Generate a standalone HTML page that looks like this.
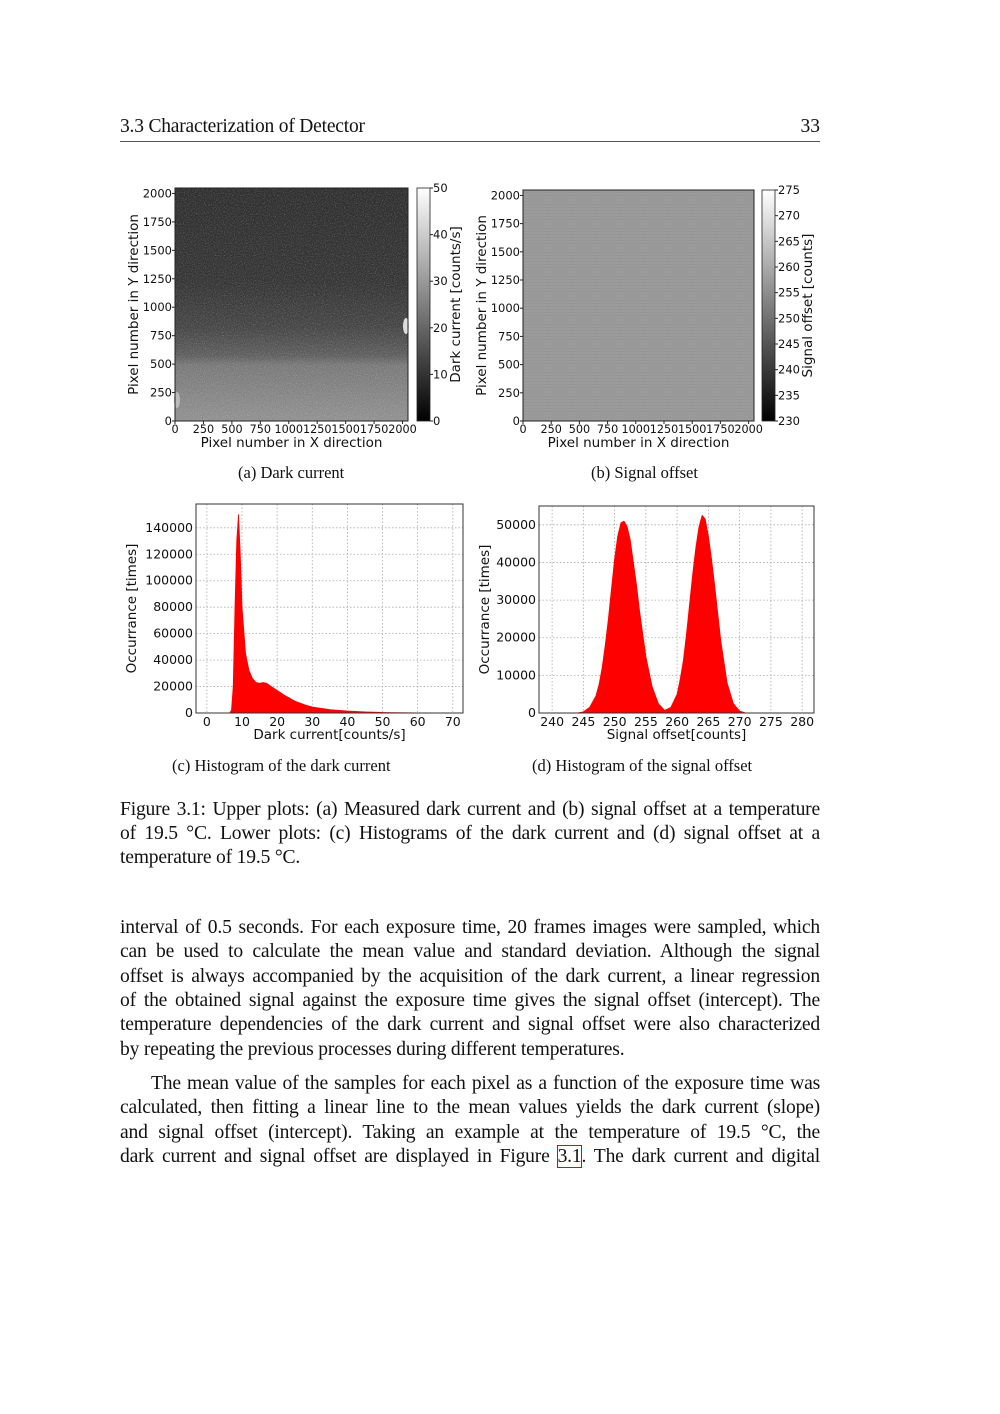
<!DOCTYPE html>
<html><head><meta charset="utf-8"><style>
body{margin:0;background:#fff;}
#page{position:relative;width:1000px;height:1414px;overflow:hidden;background:#fff;font-family:"Liberation Serif",serif;color:#111;}
.ln{position:absolute;left:120px;width:700px;font-size:19.6px;line-height:24px;white-space:nowrap;text-align:justify;text-align-last:justify;letter-spacing:-0.2px;}
.ln.last{text-align-last:left;}
.cap{position:absolute;font-size:16.5px;line-height:20px;white-space:nowrap;}
svg text{font-family:"DejaVu Sans",sans-serif;}
</style></head><body>
<div id="page">
<div class="ln last" style="top:115px;font-size:19.5px;">3.3 Characterization of Detector</div>
<div style="position:absolute;top:115px;left:780px;width:40px;text-align:right;font-size:19.5px;line-height:24px;">33</div>
<div style="position:absolute;top:141px;left:120px;width:700px;height:1px;background:#555;"></div>

<svg id="fig" width="1000" height="760" style="position:absolute;left:0;top:0">
<defs>
<linearGradient id="dcg" x1="0" y1="0" x2="0" y2="1">
<stop offset="0" stop-color="#2e2e2e"/><stop offset="0.4" stop-color="#343434"/><stop offset="0.6" stop-color="#454545"/><stop offset="0.72" stop-color="#5e5e5e"/><stop offset="0.76" stop-color="#787878"/><stop offset="1" stop-color="#909090"/></linearGradient>
<linearGradient id="cbg" x1="0" y1="1" x2="0" y2="0"><stop offset="0" stop-color="#000"/><stop offset="1" stop-color="#fff"/></linearGradient>
<filter id="noise" x="0" y="0" width="100%" height="100%"><feTurbulence type="fractalNoise" baseFrequency="0.9" numOctaves="2" seed="3"/><feColorMatrix type="matrix" values="0 0 0 0 1  0 0 0 0 1  0 0 0 0 1  0 0 0 1.6 -0.7"/></filter>
<pattern id="grid" width="3" height="3" patternUnits="userSpaceOnUse"><rect width="3" height="3" fill="#9c9c9c"/><rect width="3" height="1" fill="#959595"/><rect width="1" height="3" fill="#989898"/></pattern>
</defs>
<g id="pa">
<rect x="175" y="188" width="233" height="233" fill="url(#dcg)"/>
<rect x="175" y="188" width="233" height="233" filter="url(#noise)" opacity="0.35"/>
<ellipse cx="406" cy="326" rx="3" ry="8" fill="#ddd"/>
<ellipse cx="177" cy="400" rx="3" ry="8" fill="#bbb"/>
<rect x="175" y="188" width="233" height="233" fill="none" stroke="#222" stroke-width="1"/>
<rect x="417" y="188" width="13" height="233" fill="url(#cbg)" stroke="#222" stroke-width="0.8"/>
</g>
<g id="pb">
<rect x="523" y="190" width="231" height="231" fill="url(#grid)" stroke="#222"/>
<rect x="762" y="190" width="13" height="231" fill="url(#cbg)" stroke="#222" stroke-width="0.8"/>
</g>
<g id="axes"></g>
</svg>

<div class="cap" style="left:238px;top:463px">(a) Dark current</div>
<div class="cap" style="left:591px;top:463px">(b) Signal offset</div>
<div class="cap" style="left:172px;top:756px">(c) Histogram of the dark current</div>
<div class="cap" style="left:532px;top:756px">(d) Histogram of the signal offset</div>

<div class="ln" style="top:798px">Figure 3.1: Upper plots: (a) Measured dark current and (b) signal offset at a temperature</div>
<div class="ln" style="top:822px">of 19.5 °C. Lower plots: (c) Histograms of the dark current and (d) signal offset at a</div>
<div class="ln last" style="top:846px">temperature of 19.5 °C.</div>

<div class="ln" style="top:916px">interval of 0.5 seconds. For each exposure time, 20 frames images were sampled, which</div>
<div class="ln" style="top:940px">can be used to calculate the mean value and standard deviation. Although the signal</div>
<div class="ln" style="top:965px">offset is always accompanied by the acquisition of the dark current, a linear regression</div>
<div class="ln" style="top:989px">of the obtained signal against the exposure time gives the signal offset (intercept). The</div>
<div class="ln" style="top:1013px">temperature dependencies of the dark current and signal offset were also characterized</div>
<div class="ln last" style="top:1038px">by repeating the previous processes during different temperatures.</div>
<div class="ln" style="top:1072px">&nbsp;&nbsp;&nbsp;&nbsp;&nbsp;The mean value of the samples for each pixel as a function of the exposure time was</div>
<div class="ln" style="top:1096px">calculated, then fitting a linear line to the mean values yields the dark current (slope)</div>
<div class="ln" style="top:1121px">and signal offset (intercept). Taking an example at the temperature of 19.5 °C, the</div>
<div class="ln" style="top:1145px">dark current and signal offset are displayed in Figure <span style="outline:1.5px solid #e00;">3.1</span>. The dark current and digital</div>
</div>
<script>
const dcX=[6.5,7,7.5,8,8.5,9,9.5,10,11,12,13,14,15,16,17,18,20,22,25,28,30,35,40,45,50,60,70];
const dcY=[0,2000,20000,80000,130000,150000,120000,80000,45000,32000,26000,23000,22500,23000,22500,20500,17000,13500,9000,6000,4500,2500,1500,800,400,100,0];
const soX=[244,245,246,247,247.5,248,248.5,249,249.5,250,250.5,251,251.5,252,252.5,253,253.5,254,254.5,255,256,257,258,259,260,260.5,261,261.5,262,262.5,263,263.5,264,264.5,265,265.5,266,266.5,267,268,269,270,271];
const soY=[0,300,1500,4500,7500,12000,18000,25000,33000,41000,47000,50500,51000,49500,46000,40000,34000,27000,21000,15000,7000,2500,700,1500,5000,9000,14000,21000,29000,37000,44000,49500,52500,51500,47000,41000,34000,26500,19000,8000,2500,500,0];
const mapTicks=[0,250,500,750,1000,1250,1500,1750,2000];
const dcCbTicks=[0,10,20,30,40,50];
const soCbTicks=[230,235,240,245,250,255,260,265,270,275];
const dcXTicks=[0,10,20,30,40,50,60,70];
const dcYTicks=[0,20000,40000,60000,80000,100000,120000,140000];
const soXTicks=[240,245,250,255,260,265,270,275,280];
const soYTicks=[0,10000,20000,30000,40000,50000];
const NS='http://www.w3.org/2000/svg';
const G=document.getElementById('axes');
function mk(tag,attrs,parent){const e=document.createElementNS(NS,tag);for(const k in attrs)e.setAttribute(k,attrs[k]);(parent||G).appendChild(e);return e;}
function txt(s,x,y,anchor,size,rot){const t=mk('text',{x:x,y:y,'text-anchor':anchor,'font-size':size,fill:'#111'});if(rot)t.setAttribute('transform','rotate(-90 '+x+' '+y+')');t.textContent=s;return t;}
function lin(d0,d1,r0,r1){return v=>r0+(v-d0)/(d1-d0)*(r1-r0);}
function mapAxes(x0,x1,y0,y1,name){
  const sx=lin(0,2048,x0,x1), sy=lin(0,2048,y1,y0);
  mapTicks.forEach(v=>{
    const l=mk('line',{x1:sx(v),x2:sx(v),y1:y1,y2:y1+3,stroke:'#222'});
    
    
    const t=txt(String(v),sx(v),y1+12,'middle',11.2);
    
    
    const l2=mk('line',{x1:x0-3,x2:x0,y1:sy(v),y2:sy(v),stroke:'#222'});
    
    
    const t2=txt(String(v),x0-3,sy(v)+4,'end',11.5);
    
    
  });
  const xt=txt('Pixel number in X direction',(x0+x1)/2,y1+26,'middle',13.5);
  
  
  const yt=txt('Pixel number in Y direction',x0-37,(y0+y1)/2,'middle',13.5,true);
  
  
}
mapAxes(175,408,188,421,'map-a');
mapAxes(523,754,190,421,'map-b');
function cbar(x,y0,y1,ticks,lo,hi,label,name,off){
  const s=lin(lo,hi,y1,y0);
  ticks.forEach(v=>{
    const l=mk('line',{x1:x,x2:x+3,y1:s(v),y2:s(v),stroke:'#222'});
    
    
    const t=txt(String(v),x+3,s(v)+4,'start',11.5);
    
    
  });
  const t=txt(label,x+off,(y0+y1)/2,'middle',13.5,true);
  
  
}
cbar(430,188,421,dcCbTicks,0,50,'Dark current [counts/s]','colorbar-a',30);
cbar(775,190,421,soCbTicks,230,275,'Signal offset [counts]','colorbar-b',37);
function hist(x0,x1,y0,y1,xd,yd,xt,yt,X,Y,xl,name,yoff){
  const sx=lin(xd[0],xd[1],x0,x1), sy=lin(yd[0],yd[1],y1,y0);
  mk('rect',{x:x0,y:y0,width:x1-x0,height:y1-y0,fill:'#fff'});
  xt.forEach(v=>{
    const g=mk('line',{x1:sx(v),x2:sx(v),y1:y0,y2:y1,stroke:'#aaa','stroke-dasharray':'1.5,2','stroke-width':0.8});
    
    
    const t=txt(String(v),sx(v),y1+13,'middle',12.5);
    
    
  });
  yt.forEach(v=>{
    const g=mk('line',{x1:x0,x2:x1,y1:sy(v),y2:sy(v),stroke:'#aaa','stroke-dasharray':'1.5,2','stroke-width':0.8});
    
    
    const t=txt(String(v),x0-3,sy(v)+4,'end',12.5);
    
    
  });
  let d='M'+sx(X[0])+','+sy(0);
  X.forEach((v,i)=>{d+=' L'+sx(v).toFixed(2)+','+sy(Y[i]).toFixed(2);});
  d+=' L'+sx(X[X.length-1])+','+sy(0)+'Z';
  const p=mk('path',{d:d,fill:'#f00',stroke:'#f00','stroke-width':0.8,'stroke-linejoin':'round'});
  
  
  const f=mk('rect',{x:x0,y:y0,width:x1-x0,height:y1-y0,fill:'none',stroke:'#333'});
  
  
  const a=txt(xl,(x0+x1)/2,y1+26,'middle',13.5);
  
  
  const b=txt('Occurrance [times]',x0-yoff,(y0+y1)/2,'middle',13.5,true);
  
  
}
hist(196,463,504,713,[-3.1,72.9],[0,158000],dcXTicks,dcYTicks,dcX,dcY,'Dark current[counts/s]','hist-dark-current',60);
hist(539,814,506,713,[237.9,281.9],[0,55000],soXTicks,soYTicks,soX,soY,'Signal offset[counts]','hist-signal-offset',50);
</script>
</body></html>
